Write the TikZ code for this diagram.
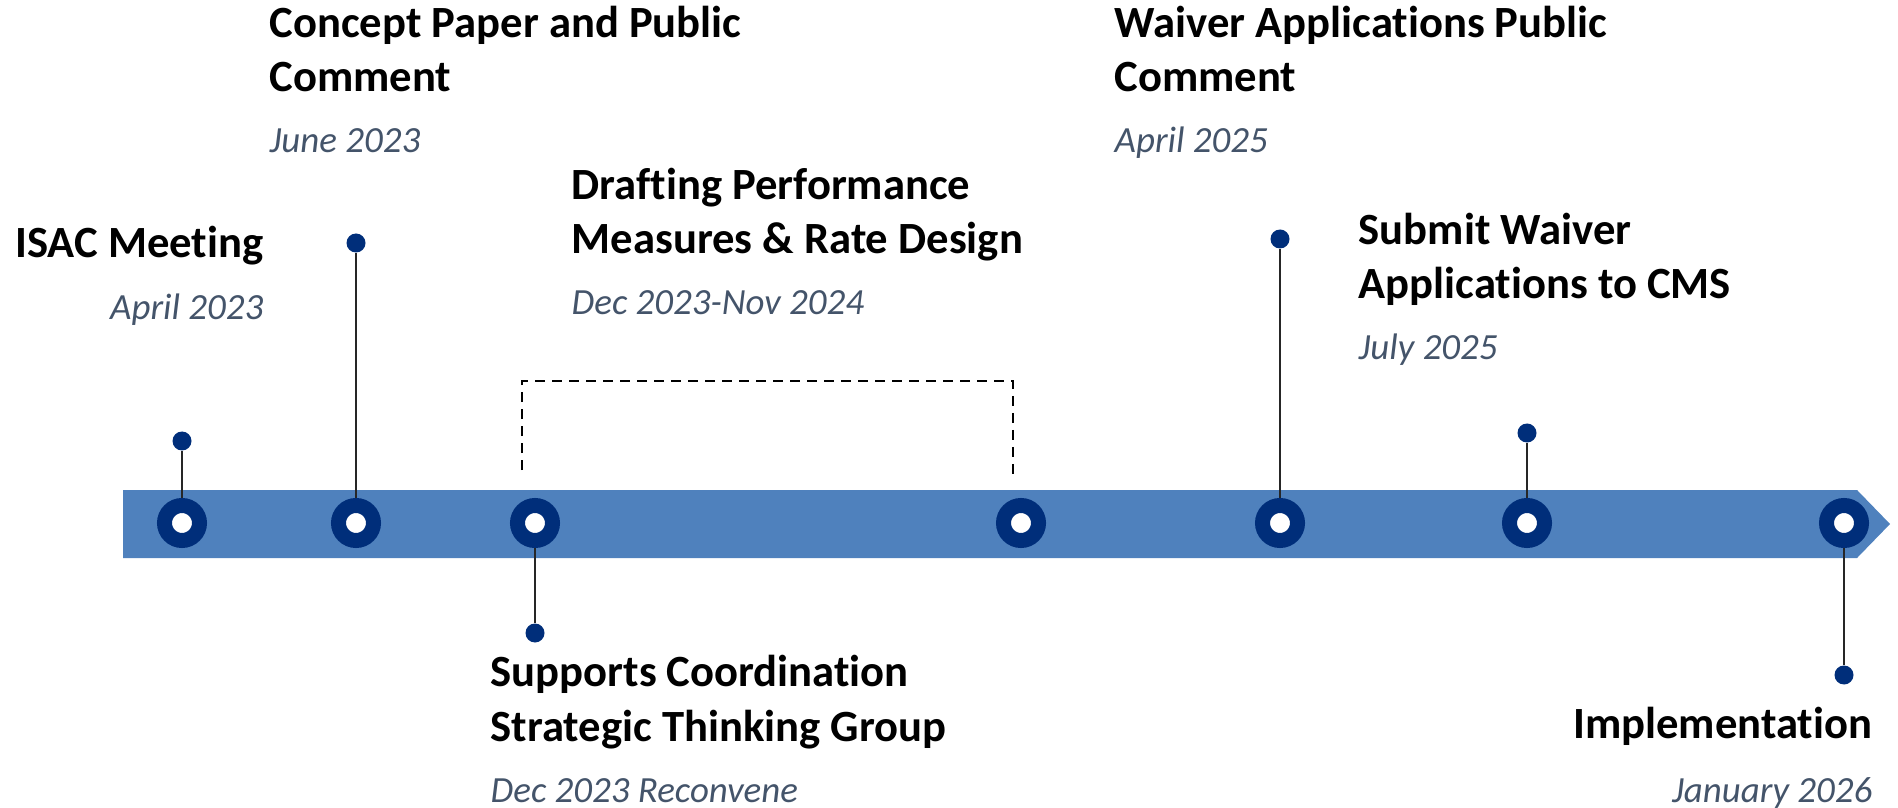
\documentclass[tikz,border=0pt]{standalone}
\usepackage{fontspec}
\setmainfont{Carlito}[Ligatures=NoCommon]
\usepackage{xcolor}
\usepackage{tikz}
\usetikzlibrary{calc}
\definecolor{barblue}{HTML}{4F81BD}
\definecolor{pinnavy}{HTML}{002E7A}
\definecolor{dategray}{HTML}{44546A}
\pgfkeys{tikz/mytimeline/.style={x=0.1mm,y=-0.1mm}}
\pgfkeys{tikz/mystop/.style={circle,draw=pinnavy,line width=1.5mm,fill=white,minimum size=3.5mm,inner sep=0pt}}
\pgfkeys{tikz/mydot/.style={circle,fill=pinnavy,minimum size=1.9mm,inner sep=0pt}}
\pgfkeys{tikz/mypin/.style={draw=black!85,line width=0.6pt}}
\pgfkeys{tikz/mytitle/.style={inner sep=0pt,font=\fontsize{12.7}{15.6}\selectfont\bfseries,align=left}}
\pgfkeys{tikz/mydate/.style={inner sep=0pt,font=\fontsize{10.5}{13}\selectfont\itshape,text=dategray}}
\newcommand*\mytimelinestop[4]{
    \node[mystop] (c#1) at (#2,523) {};
    \node[mydot] (d#1) at (#3,#4) {};
    \draw[mypin] (d#1) -- (c#1);
}

\begin{document}
\begin{tikzpicture}[mytimeline]
    \useasboundingbox (0,0) rectangle (1898,808);
    \fill[barblue] (123,490) -- (1857,490) -- (1890,524) -- (1857,558) -- (123,558) -- cycle;
    % bracket over the drafting period
    \coordinate (b1) at (522,470);
    \coordinate (b2) at (1013,479);
    \draw[black,line width=0.6pt,dash pattern=on 1mm off 0.7mm] (b1) |- ($(b2)+(0,-98)$) -- (b2);
    \mytimelinestop{1}{182}{182}{441}
    \mytimelinestop{2}{356}{356}{243}
    \mytimelinestop{3}{535}{535}{633}
    \node[mystop] (c4) at (1021,523) {};
    \mytimelinestop{5}{1280}{1280}{239}
    \mytimelinestop{6}{1527}{1527}{433}
    \mytimelinestop{7}{1844}{1844}{675}
    % labels (base = last line)
    \node[mytitle,anchor=base east] (t1) at (264,258) {ISAC Meeting};
    \node[mydate,anchor=base east] (s1) at (264,320) {April 2023};
    \node[mytitle,anchor=base west] (t2) at (269,92) {Concept Paper and Public\\Comment};
    \node[mydate,anchor=base west] (s2) at (269,153) {June 2023};
    \node[mytitle,anchor=base west] (t3) at (490,741) {Supports Coordination\\Strategic Thinking Group};
    \node[mydate,anchor=base west] (s3) at (490,802) {Dec 2023 Reconvene};
    \node[mytitle,anchor=base west] (t4) at (571,254) {Drafting Performance\\Measures \& Rate Design};
    \node[mydate,anchor=base west] (s4) at (571,315) {Dec 2023-Nov 2024};
    \node[mytitle,anchor=base west] (t5) at (1114,92) {Waiver Applications Public\\Comment};
    \node[mydate,anchor=base west] (s5) at (1114,153) {April 2025};
    \node[mytitle,anchor=base west] (t6) at (1358,299) {Submit Waiver\\Applications to CMS};
    \node[mydate,anchor=base west] (s6) at (1358,360) {July 2025};
    \node[mytitle,anchor=base east] (t7) at (1873,738) {Implementation};
    \node[mydate,anchor=base east] (s7) at (1873,802) {January 2026};
\end{tikzpicture}
\end{document}
